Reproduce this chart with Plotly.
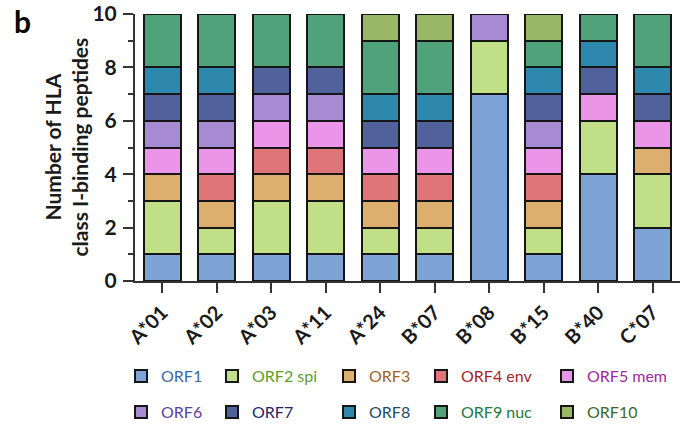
import plotly.graph_objects as go

alleles = ["A*01", "A*02", "A*03", "A*11", "A*24", "B*07", "B*08", "B*15", "B*40", "C*07"]

orf_names = ["ORF1", "ORF2 spi", "ORF3", "ORF4 env", "ORF5 mem",
             "ORF6", "ORF7", "ORF8", "ORF9 nuc", "ORF10"]

orf1 = [1, 1, 1, 1, 1, 1, 7, 1, 4, 2]
orf2 = [2, 1, 2, 2, 1, 1, 2, 1, 2, 2]
orf3 = [1, 1, 1, 1, 1, 1, 0, 1, 0, 1]
orf4 = [0, 1, 1, 1, 1, 1, 0, 1, 0, 0]
orf5 = [1, 1, 1, 1, 1, 1, 0, 1, 1, 1]
orf6 = [1, 1, 1, 1, 0, 0, 1, 1, 0, 0]
orf7 = [1, 1, 1, 1, 1, 1, 0, 1, 1, 1]
orf8 = [1, 1, 0, 0, 1, 1, 0, 1, 1, 1]
orf9 = [2, 2, 2, 2, 2, 2, 0, 1, 1, 2]
orf10 = [0, 0, 0, 0, 1, 1, 0, 1, 0, 0]

series = [orf1, orf2, orf3, orf4, orf5, orf6, orf7, orf8, orf9, orf10]

fill_colors = ["#7ea3d5", "#c0df87", "#dcaf6f", "#df7578", "#eb95e8",
               "#a68bd3", "#51619c", "#2e88ad", "#50a27a", "#9ab667"]
text_colors = ["#3b69a8", "#5a9e2c", "#a0651e", "#a3262a", "#a0289e",
               "#6040a0", "#1f2466", "#1d4b67", "#217a40", "#3a6a22"]

FONT = "Lato"
W, H = 690, 425
ML, MR, MT, MB = 135, 10, 14, 144

fig = go.Figure()
legend_ids = ["legend"] + [f"legend{i}" for i in range(2, 11)]
for i, (name, vals) in enumerate(zip(orf_names, series)):
    fig.add_trace(go.Bar(
        x=alleles,
        y=[v if v else None for v in vals],
        name=name,
        marker=dict(color=fill_colors[i], line=dict(color="#161616", width=2)),
        legend=legend_ids[i],
    ))

# legend grid layout (container coords)
col_x = [121, 212, 329, 421, 547]
row_y = [376, 412]
legend_layout = {}
for i, lid in enumerate(legend_ids):
    r, c = divmod(i, 5)
    legend_layout[lid] = dict(
        x=col_x[c] / W, y=1 - row_y[r] / H,
        xref="container", yref="container",
        xanchor="left", yanchor="middle",
        font=dict(family=FONT, size=16, color=text_colors[i]),
        bgcolor="rgba(0,0,0,0)", borderwidth=0,
        itemwidth=30,
    )

fig.update_layout(
    barmode="stack",
    bargap=0.32,
    width=W, height=H,
    margin=dict(l=ML, r=MR, t=MT, b=MB, autoexpand=False),
    plot_bgcolor="white", paper_bgcolor="white",
    font=dict(family=FONT, color="#1a1a1a"),
    showlegend=True,
    **legend_layout,
)

fig.update_yaxes(
    range=[0, 10], tickvals=[0, 2, 4, 6, 8, 10],
    showgrid=False, zeroline=False,
    showline=True, linecolor="#333", linewidth=2,
    ticks="outside", ticklen=10, tickwidth=2, tickcolor="#333",
    minor=dict(tickvals=[1, 3, 5, 7, 9], ticks="outside", ticklen=5, tickwidth=2, tickcolor="#333"),
    tickfont=dict(family=FONT, size=21, color="#1a1a1a", weight="bold"),
    ticklabelstandoff=2,
)
fig.update_xaxes(
    range=[-0.5, 9.5],
    showgrid=False, zeroline=False,
    showline=True, linecolor="#333", linewidth=2,
    ticks="outside", ticklen=10, tickwidth=2, tickcolor="#333",
    tickangle=-45,
    tickfont=dict(family=FONT, size=20, color="#1a1a1a", weight="bold"),
)

pw = W - ML - MR
ph = H - MT - MB
fig.add_annotation(
    text="Number of HLA<br>class I-binding peptides",
    xref="paper", yref="paper", x=(65 - ML) / pw, y=0.5,
    xanchor="center", yanchor="middle", textangle=-90, showarrow=False,
    font=dict(family=FONT, size=21, color="#1a1a1a", weight="bold"),
)
fig.add_annotation(
    text="b", xref="paper", yref="paper",
    x=(12 - ML) / pw, y=(H - MB - 1) / ph,
    xanchor="left", yanchor="top", showarrow=False,
    font=dict(family=FONT, size=30, color="#000", weight="bold"),
)

fig.write_html("out.html", config={"displayModeBar": False},
               post_script="document.body.style.margin='0';")
